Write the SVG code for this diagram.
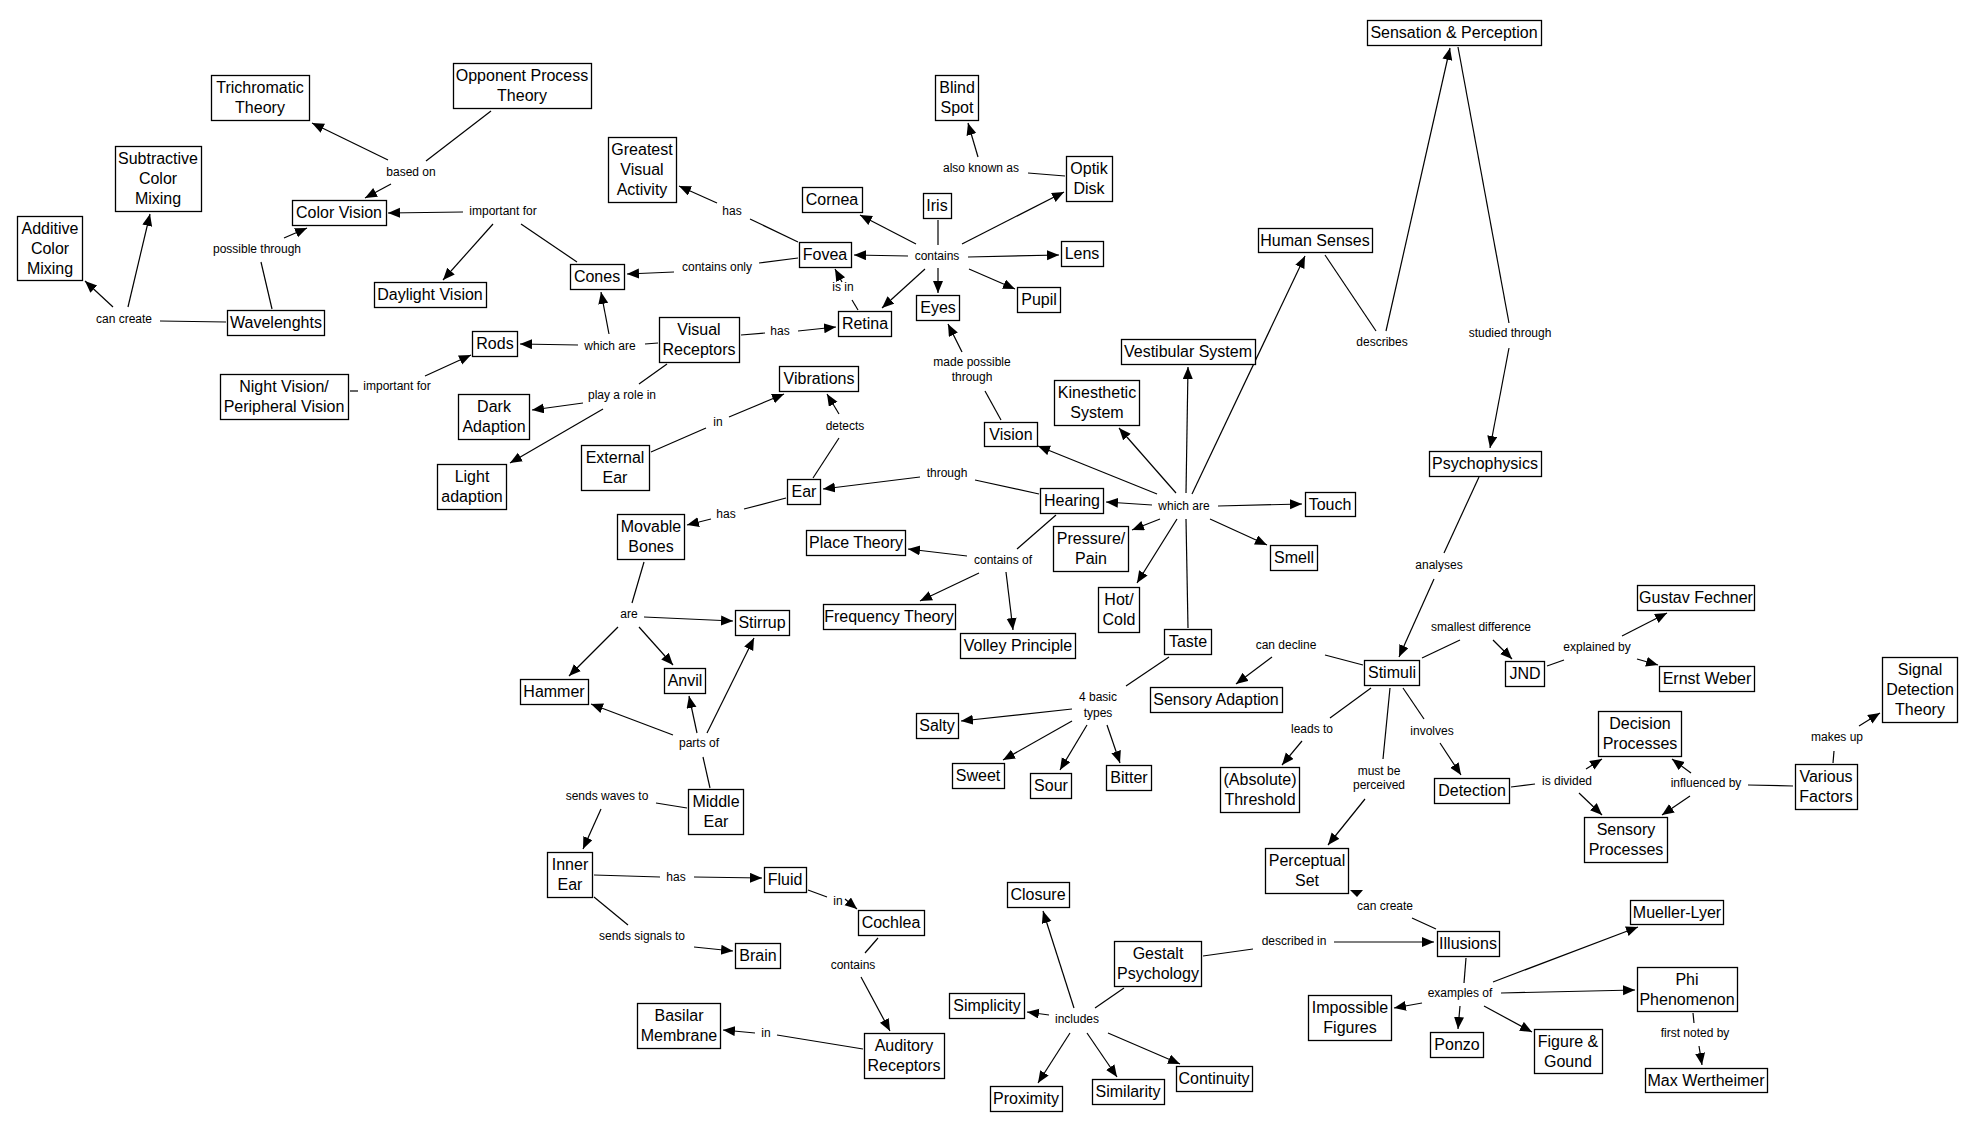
<svg xmlns="http://www.w3.org/2000/svg" width="1973" height="1131" viewBox="0 0 1973 1131">
<defs>
<marker id="ah" markerUnits="userSpaceOnUse" markerWidth="13" markerHeight="11" refX="12" refY="5" orient="auto"><path d="M0,0 L12,5 L0,10 z" fill="#000"/></marker>
<style>
.n rect{fill:#fff;stroke:#000;stroke-width:1.3}
.n text{font-family:"Liberation Sans",Arial,sans-serif;font-size:16px;text-anchor:middle;fill:#000}
#links path{stroke:#000;stroke-width:1.2;fill:none}
#links path.a{marker-end:url(#ah)}
#labels text{font-family:"Liberation Sans",Arial,sans-serif;font-size:12px;text-anchor:middle;fill:#000}
</style>
</defs>
<rect width="1973" height="1131" fill="#fff"/>
<g id="links">
<path d="M491,111 L426,161"/>
<path d="M521,224 L577,262"/>
<path d="M272,309 L261,262"/>
<path d="M226,322 L160,321"/>
<path d="M350,391 L358,391"/>
<path d="M798,242 L750,219"/>
<path d="M798,258 L759,263"/>
<path d="M938,220 L938,245"/>
<path d="M858,310 L852,300"/>
<path d="M741,335 L765,333"/>
<path d="M658,343 L645,344"/>
<path d="M1065,176 L1028,173"/>
<path d="M1001,420 L985,391"/>
<path d="M667,364 L639,384"/>
<path d="M1325,255 L1376,331"/>
<path d="M1458,47 L1509,323"/>
<path d="M1188,628 L1186,519"/>
<path d="M1056,515 L1017,549"/>
<path d="M1039,494 L975,480"/>
<path d="M1169,657 L1126,686"/>
<path d="M1363,665 L1325,655"/>
<path d="M1479,477 L1444,553"/>
<path d="M1422,658 L1460,640"/>
<path d="M1371,688 L1330,718"/>
<path d="M1403,688 L1424,719"/>
<path d="M1390,688 L1383,759"/>
<path d="M1547,666 L1564,660"/>
<path d="M1833,763 L1834,751"/>
<path d="M1511,787 L1535,784"/>
<path d="M1793,786 L1748,785"/>
<path d="M1693,1013 L1694,1023"/>
<path d="M1436,929 L1412,918"/>
<path d="M1203,956 L1253,949"/>
<path d="M1124,988 L1095,1008"/>
<path d="M1466,958 L1464,983"/>
<path d="M710,788 L703,757"/>
<path d="M687,808 L656,803"/>
<path d="M594,875 L660,877"/>
<path d="M808,890 L827,897"/>
<path d="M878,938 L865,953"/>
<path d="M594,897 L628,925"/>
<path d="M863,1049 L777,1035"/>
<path d="M651,452 L706,428"/>
<path d="M813,478 L839,438"/>
<path d="M786,498 L744,509"/>
<path d="M644,562 L632,603"/>
<path class="a" d="M388,160 L312,123"/>
<path class="a" d="M391,184 L365,198"/>
<path class="a" d="M463,212 L388,213"/>
<path class="a" d="M493,224 L443,280"/>
<path class="a" d="M284,238 L307,228"/>
<path class="a" d="M113,307 L85,281"/>
<path class="a" d="M128,307 L150,214"/>
<path class="a" d="M425,376 L471,355"/>
<path class="a" d="M717,203 L679,186"/>
<path class="a" d="M674,272 L627,274"/>
<path class="a" d="M908,256 L854,255"/>
<path class="a" d="M916,244 L860,215"/>
<path class="a" d="M938,268 L938,293"/>
<path class="a" d="M925,269 L882,308"/>
<path class="a" d="M962,244 L1064,192"/>
<path class="a" d="M968,257 L1059,255"/>
<path class="a" d="M969,269 L1015,289"/>
<path class="a" d="M842,282 L835,269"/>
<path class="a" d="M798,331 L836,327"/>
<path class="a" d="M578,345 L520,344"/>
<path class="a" d="M609,334 L601,292"/>
<path class="a" d="M978,157 L968,123"/>
<path class="a" d="M962,352 L948,324"/>
<path class="a" d="M1386,331 L1450,48"/>
<path class="a" d="M1509,348 L1490,448"/>
<path class="a" d="M1192,494 L1305,256"/>
<path class="a" d="M1186,493 L1188,367"/>
<path class="a" d="M1176,493 L1119,428"/>
<path class="a" d="M1157,494 L1038,446"/>
<path class="a" d="M1152,505 L1106,502"/>
<path class="a" d="M1218,506 L1302,504"/>
<path class="a" d="M1160,519 L1132,530"/>
<path class="a" d="M1177,519 L1137,583"/>
<path class="a" d="M1210,519 L1267,545"/>
<path class="a" d="M1006,572 L1013,630"/>
<path class="a" d="M1272,657 L1236,684"/>
<path class="a" d="M1434,579 L1399,657"/>
<path class="a" d="M1493,640 L1512,659"/>
<path class="a" d="M1302,741 L1282,765"/>
<path class="a" d="M1440,743 L1461,775"/>
<path class="a" d="M1072,709 L961,721"/>
<path class="a" d="M1072,721 L1003,760"/>
<path class="a" d="M1087,725 L1060,770"/>
<path class="a" d="M1107,725 L1120,763"/>
<path class="a" d="M1622,636 L1667,613"/>
<path class="a" d="M1637,659 L1658,665"/>
<path class="a" d="M1859,726 L1880,713"/>
<path class="a" d="M1586,769 L1602,759"/>
<path class="a" d="M1579,793 L1602,815"/>
<path class="a" d="M1691,773 L1672,759"/>
<path class="a" d="M1690,796 L1662,815"/>
<path class="a" d="M1493,982 L1638,927"/>
<path class="a" d="M1501,993 L1635,990"/>
<path class="a" d="M1484,1006 L1532,1032"/>
<path class="a" d="M1699,1046 L1702,1065"/>
<path class="a" d="M1365,799 L1328,845"/>
<path class="a" d="M1334,942 L1434,942"/>
<path class="a" d="M1074,1008 L1043,911"/>
<path class="a" d="M1049,1015 L1027,1012"/>
<path class="a" d="M1070,1033 L1038,1083"/>
<path class="a" d="M1087,1033 L1117,1077"/>
<path class="a" d="M1108,1033 L1180,1064"/>
<path class="a" d="M1422,1003 L1394,1008"/>
<path class="a" d="M1460,1006 L1458,1029"/>
<path class="a" d="M601,809 L583,849"/>
<path class="a" d="M694,877 L762,878"/>
<path class="a" d="M845,899 L857,909"/>
<path class="a" d="M861,977 L890,1031"/>
<path class="a" d="M694,947 L733,951"/>
<path class="a" d="M755,1033 L723,1030"/>
<path class="a" d="M583,403 L532,410"/>
<path class="a" d="M603,409 L510,463"/>
<path class="a" d="M729,417 L784,394"/>
<path class="a" d="M839,414 L827,394"/>
<path class="a" d="M920,477 L823,489"/>
<path class="a" d="M711,519 L687,525"/>
<path class="a" d="M644,617 L733,621"/>
<path class="a" d="M618,627 L569,676"/>
<path class="a" d="M639,627 L673,665"/>
<path class="a" d="M673,735 L591,704"/>
<path class="a" d="M697,733 L689,696"/>
<path class="a" d="M707,733 L754,638"/>
<path class="a" d="M967,556 L908,549"/>
<path class="a" d="M979,573 L920,601"/>
<polygon points="1350,890 1363,890 1357,897" fill="#000"/>
</g>
<g id="labels">
<text x="411" y="176">based on</text>
<text x="503" y="215">important for</text>
<text x="257" y="253">possible through</text>
<text x="124" y="323">can create</text>
<text x="397" y="390">important for</text>
<text x="732" y="215">has</text>
<text x="717" y="271">contains only</text>
<text x="937" y="260">contains</text>
<text x="843" y="291">is in</text>
<text x="610" y="350">which are</text>
<text x="780" y="335">has</text>
<text x="981" y="172">also known as</text>
<text x="972" y="366">made possible</text>
<text x="972" y="381">through</text>
<text x="1382" y="346">describes</text>
<text x="1510" y="337">studied through</text>
<text x="1184" y="510">which are</text>
<text x="1003" y="564">contains of</text>
<text x="1098" y="701">4 basic</text>
<text x="1098" y="717">types</text>
<text x="1286" y="649">can decline</text>
<text x="1439" y="569">analyses</text>
<text x="1481" y="631">smallest difference</text>
<text x="1312" y="733">leads to</text>
<text x="1432" y="735">involves</text>
<text x="947" y="477">through</text>
<text x="1597" y="651">explained by</text>
<text x="1837" y="741">makes up</text>
<text x="1567" y="785">is divided</text>
<text x="1706" y="787">influenced by</text>
<text x="1460" y="997">examples of</text>
<text x="1695" y="1037">first noted by</text>
<text x="1379" y="775">must be</text>
<text x="1379" y="789">perceived</text>
<text x="1385" y="910">can create</text>
<text x="1294" y="945">described in</text>
<text x="1077" y="1023">includes</text>
<text x="699" y="747">parts of</text>
<text x="607" y="800">sends waves to</text>
<text x="676" y="881">has</text>
<text x="838" y="905">in</text>
<text x="642" y="940">sends signals to</text>
<text x="853" y="969">contains</text>
<text x="766" y="1037">in</text>
<text x="622" y="399">play a role in</text>
<text x="718" y="426">in</text>
<text x="845" y="430">detects</text>
<text x="726" y="518">has</text>
<text x="629" y="618">are</text>
</g>
<g id="trichromatic" class="n"><rect x="211.5" y="75.5" width="98" height="45"/><text x="260" y="93">Trichromatic</text><text x="260" y="113">Theory</text></g>
<g id="opponent" class="n"><rect x="453.5" y="63.5" width="138" height="45"/><text x="522" y="81">Opponent Process</text><text x="522" y="101">Theory</text></g>
<g id="subtractive" class="n"><rect x="115.5" y="146.5" width="86" height="65"/><text x="158" y="164">Subtractive</text><text x="158" y="184">Color</text><text x="158" y="204">Mixing</text></g>
<g id="additive" class="n"><rect x="17.5" y="216.5" width="65" height="64"/><text x="50" y="233.5">Additive</text><text x="50" y="253.5">Color</text><text x="50" y="273.5">Mixing</text></g>
<g id="colorvision" class="n"><rect x="292.5" y="200.5" width="94" height="25"/><text x="339" y="218">Color Vision</text></g>
<g id="daylight" class="n"><rect x="374.5" y="282.5" width="112" height="25"/><text x="430" y="300">Daylight Vision</text></g>
<g id="wavelenghts" class="n"><rect x="227.5" y="310.5" width="97" height="25"/><text x="276" y="328">Wavelenghts</text></g>
<g id="rods" class="n"><rect x="472.5" y="331.5" width="45" height="25"/><text x="495" y="349">Rods</text></g>
<g id="nightvision" class="n"><rect x="220.5" y="374.5" width="128" height="45"/><text x="284" y="392">Night Vision/</text><text x="284" y="412">Peripheral Vision</text></g>
<g id="blindspot" class="n"><rect x="935.5" y="75.5" width="43" height="45"/><text x="957" y="93">Blind</text><text x="957" y="113">Spot</text></g>
<g id="greatest" class="n"><rect x="608.5" y="137.5" width="68" height="65"/><text x="642" y="155">Greatest</text><text x="642" y="175">Visual</text><text x="642" y="195">Activity</text></g>
<g id="cornea" class="n"><rect x="802.5" y="187.5" width="60" height="25"/><text x="832" y="205">Cornea</text></g>
<g id="iris" class="n"><rect x="923.5" y="193.5" width="28" height="25"/><text x="937" y="211">Iris</text></g>
<g id="fovea" class="n"><rect x="799.5" y="242.5" width="52" height="25"/><text x="825" y="260">Fovea</text></g>
<g id="cones" class="n"><rect x="570.5" y="264.5" width="54" height="25"/><text x="597" y="282">Cones</text></g>
<g id="eyes" class="n"><rect x="916.5" y="295.5" width="43" height="25"/><text x="938" y="313">Eyes</text></g>
<g id="retina" class="n"><rect x="838.5" y="311.5" width="53" height="25"/><text x="865" y="329">Retina</text></g>
<g id="visualreceptors" class="n"><rect x="659.5" y="317.5" width="80" height="45"/><text x="699" y="335">Visual</text><text x="699" y="355">Receptors</text></g>
<g id="vibrations" class="n"><rect x="779.5" y="366.5" width="79" height="25"/><text x="819" y="384">Vibrations</text></g>
<g id="optikdisk" class="n"><rect x="1066.5" y="156.5" width="46" height="45"/><text x="1089" y="174">Optik</text><text x="1089" y="194">Disk</text></g>
<g id="lens" class="n"><rect x="1061.5" y="241.5" width="42" height="25"/><text x="1082" y="259">Lens</text></g>
<g id="pupil" class="n"><rect x="1017.5" y="287.5" width="43" height="25"/><text x="1039" y="305">Pupil</text></g>
<g id="humansenses" class="n"><rect x="1258.5" y="228.5" width="114" height="24"/><text x="1315" y="246">Human Senses</text></g>
<g id="sensation" class="n"><rect x="1367.5" y="20.5" width="174" height="25"/><text x="1454" y="38">Sensation &amp; Perception</text></g>
<g id="vestibular" class="n"><rect x="1121.5" y="339.5" width="134" height="25"/><text x="1188" y="357">Vestibular System</text></g>
<g id="kinesthetic" class="n"><rect x="1054.5" y="380.5" width="85" height="45"/><text x="1097" y="398">Kinesthetic</text><text x="1097" y="418">System</text></g>
<g id="vision" class="n"><rect x="984.5" y="422.5" width="53" height="24"/><text x="1011" y="440">Vision</text></g>
<g id="hearing" class="n"><rect x="1040.5" y="488.5" width="63" height="25"/><text x="1072" y="506">Hearing</text></g>
<g id="touch" class="n"><rect x="1305.5" y="492.5" width="50" height="24"/><text x="1330" y="510">Touch</text></g>
<g id="pressure" class="n"><rect x="1053.5" y="526.5" width="75" height="45"/><text x="1091" y="544">Pressure/</text><text x="1091" y="564">Pain</text></g>
<g id="smell" class="n"><rect x="1270.5" y="545.5" width="47" height="25"/><text x="1294" y="563">Smell</text></g>
<g id="hotcold" class="n"><rect x="1098.5" y="587.5" width="41" height="45"/><text x="1119" y="605">Hot/</text><text x="1119" y="625">Cold</text></g>
<g id="volley" class="n"><rect x="960.5" y="633.5" width="115" height="25"/><text x="1018" y="651">Volley Principle</text></g>
<g id="taste" class="n"><rect x="1164.5" y="629.5" width="47" height="25"/><text x="1188" y="647">Taste</text></g>
<g id="sensoryadaption" class="n"><rect x="1150.5" y="687.5" width="132" height="25"/><text x="1216" y="705">Sensory Adaption</text></g>
<g id="stimuli" class="n"><rect x="1364.5" y="660.5" width="55" height="25"/><text x="1392" y="678">Stimuli</text></g>
<g id="psychophysics" class="n"><rect x="1429.5" y="451.5" width="112" height="25"/><text x="1485" y="469">Psychophysics</text></g>
<g id="fechner" class="n"><rect x="1637.5" y="585.5" width="117" height="25"/><text x="1696" y="603">Gustav Fechner</text></g>
<g id="jnd" class="n"><rect x="1505.5" y="661.5" width="39" height="25"/><text x="1525" y="679">JND</text></g>
<g id="weber" class="n"><rect x="1659.5" y="666.5" width="95" height="25"/><text x="1707" y="684">Ernst Weber</text></g>
<g id="signaldetection" class="n"><rect x="1882.5" y="657.5" width="75" height="65"/><text x="1920" y="675">Signal</text><text x="1920" y="695">Detection</text><text x="1920" y="715">Theory</text></g>
<g id="decision" class="n"><rect x="1598.5" y="711.5" width="83" height="45"/><text x="1640" y="729">Decision</text><text x="1640" y="749">Processes</text></g>
<g id="various" class="n"><rect x="1795.5" y="764.5" width="62" height="45"/><text x="1826" y="782">Various</text><text x="1826" y="802">Factors</text></g>
<g id="sensoryprocesses" class="n"><rect x="1584.5" y="817.5" width="83" height="45"/><text x="1626" y="835">Sensory</text><text x="1626" y="855">Processes</text></g>
<g id="detection" class="n"><rect x="1434.5" y="778.5" width="75" height="25"/><text x="1472" y="796">Detection</text></g>
<g id="mueller" class="n"><rect x="1630.5" y="900.5" width="93" height="24"/><text x="1677" y="918">Mueller-Lyer</text></g>
<g id="phi" class="n"><rect x="1637.5" y="967.5" width="100" height="44"/><text x="1687" y="984.5">Phi</text><text x="1687" y="1004.5">Phenomenon</text></g>
<g id="figure" class="n"><rect x="1534.5" y="1029.5" width="68" height="44"/><text x="1568" y="1046.5">Figure &amp;</text><text x="1568" y="1066.5">Gound</text></g>
<g id="wertheimer" class="n"><rect x="1645.5" y="1068.5" width="122" height="24"/><text x="1706" y="1086">Max Wertheimer</text></g>
<g id="illusions" class="n"><rect x="1437.5" y="931.5" width="62" height="25"/><text x="1468" y="949">Illusions</text></g>
<g id="ponzo" class="n"><rect x="1430.5" y="1032.5" width="53" height="25"/><text x="1457" y="1050">Ponzo</text></g>
<g id="sour" class="n"><rect x="1030.5" y="773.5" width="41" height="25"/><text x="1051" y="791">Sour</text></g>
<g id="bitter" class="n"><rect x="1106.5" y="765.5" width="45" height="25"/><text x="1129" y="783">Bitter</text></g>
<g id="sweet" class="n"><rect x="952.5" y="763.5" width="52" height="25"/><text x="978" y="781">Sweet</text></g>
<g id="threshold" class="n"><rect x="1220.5" y="767.5" width="79" height="45"/><text x="1260" y="785">(Absolute)</text><text x="1260" y="805">Threshold</text></g>
<g id="perceptualset" class="n"><rect x="1265.5" y="848.5" width="83" height="45"/><text x="1307" y="866">Perceptual</text><text x="1307" y="886">Set</text></g>
<g id="closure" class="n"><rect x="1007.5" y="882.5" width="62" height="25"/><text x="1038" y="900">Closure</text></g>
<g id="gestalt" class="n"><rect x="1114.5" y="941.5" width="87" height="45"/><text x="1158" y="959">Gestalt</text><text x="1158" y="979">Psychology</text></g>
<g id="impossible" class="n"><rect x="1308.5" y="995.5" width="83" height="45"/><text x="1350" y="1013">Impossible</text><text x="1350" y="1033">Figures</text></g>
<g id="simplicity" class="n"><rect x="949.5" y="993.5" width="75" height="25"/><text x="987" y="1011">Simplicity</text></g>
<g id="proximity" class="n"><rect x="990.5" y="1086.5" width="72" height="25"/><text x="1026" y="1104">Proximity</text></g>
<g id="similarity" class="n"><rect x="1092.5" y="1079.5" width="72" height="25"/><text x="1128" y="1097">Similarity</text></g>
<g id="continuity" class="n"><rect x="1176.5" y="1066.5" width="76" height="25"/><text x="1214" y="1084">Continuity</text></g>
<g id="middleear" class="n"><rect x="688.5" y="789.5" width="55" height="45"/><text x="716" y="807">Middle</text><text x="716" y="827">Ear</text></g>
<g id="innerear" class="n"><rect x="547.5" y="852.5" width="45" height="45"/><text x="570" y="870">Inner</text><text x="570" y="890">Ear</text></g>
<g id="fluid" class="n"><rect x="764.5" y="867.5" width="42" height="25"/><text x="785" y="885">Fluid</text></g>
<g id="cochlea" class="n"><rect x="858.5" y="910.5" width="66" height="25"/><text x="891" y="928">Cochlea</text></g>
<g id="brain" class="n"><rect x="735.5" y="943.5" width="45" height="25"/><text x="758" y="961">Brain</text></g>
<g id="basilar" class="n"><rect x="637.5" y="1003.5" width="83" height="45"/><text x="679" y="1021">Basilar</text><text x="679" y="1041">Membrane</text></g>
<g id="auditory" class="n"><rect x="864.5" y="1033.5" width="80" height="45"/><text x="904" y="1051">Auditory</text><text x="904" y="1071">Receptors</text></g>
<g id="darkadaption" class="n"><rect x="458.5" y="394.5" width="71" height="45"/><text x="494" y="412">Dark</text><text x="494" y="432">Adaption</text></g>
<g id="lightadaption" class="n"><rect x="437.5" y="464.5" width="69" height="45"/><text x="472" y="482">Light</text><text x="472" y="502">adaption</text></g>
<g id="externalear" class="n"><rect x="581.5" y="445.5" width="68" height="45"/><text x="615" y="463">External</text><text x="615" y="483">Ear</text></g>
<g id="ear" class="n"><rect x="787.5" y="479.5" width="33" height="25"/><text x="804" y="497">Ear</text></g>
<g id="movablebones" class="n"><rect x="617.5" y="514.5" width="67" height="45"/><text x="651" y="532">Movable</text><text x="651" y="552">Bones</text></g>
<g id="placetheory" class="n"><rect x="806.5" y="530.5" width="99" height="25"/><text x="856" y="548">Place Theory</text></g>
<g id="frequency" class="n"><rect x="823.5" y="604.5" width="132" height="25"/><text x="889" y="622">Frequency Theory</text></g>
<g id="stirrup" class="n"><rect x="735.5" y="610.5" width="54" height="25"/><text x="762" y="628">Stirrup</text></g>
<g id="anvil" class="n"><rect x="664.5" y="668.5" width="41" height="25"/><text x="685" y="686">Anvil</text></g>
<g id="hammer" class="n"><rect x="520.5" y="679.5" width="68" height="25"/><text x="554" y="697">Hammer</text></g>
<g id="salty" class="n"><rect x="916.5" y="713.5" width="42" height="25"/><text x="937" y="731">Salty</text></g>
</svg>
